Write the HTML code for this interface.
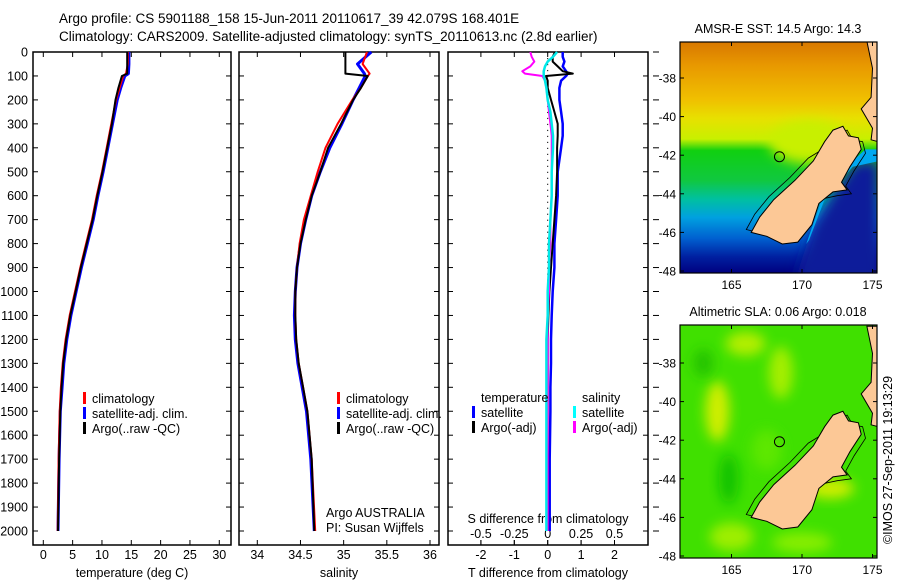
<!DOCTYPE html>
<html><head><meta charset="utf-8"><style>
body{margin:0;background:#fff;}
svg{display:block;font-family:"Liberation Sans",sans-serif;}
</style></head><body>
<svg id="c" width="900" height="580" xmlns="http://www.w3.org/2000/svg">
<text x="59" y="23" font-size="13.5">Argo profile: CS 5901188_158 15-Jun-2011 20110617_39 42.079S 168.401E</text>
<text x="59" y="41" font-size="13.5">Climatology: CARS2009. Satellite-adjusted climatology: synTS_20110613.nc (2.8d earlier)</text>
<g id="maps"></g>
<g id="panels"></g>
<text transform="translate(892,460) rotate(-90)" text-anchor="middle" font-size="12.5">©IMOS 27-Sep-2011 19:13:29</text>
</svg>
<script>
// ---- data ----
const depths = [0,50,90,100,150,200,300,400,500,600,700,800,900,1000,1100,1200,1300,1400,1500,1700,2000];
const tempClim = [14.4,14.4,14.1,13.6,13.0,12.4,11.6,10.8,10.0,9.1,8.3,7.3,6.3,5.4,4.5,3.8,3.3,3.0,2.8,2.6,2.45];
const tempSat  = [14.6,14.6,14.5,13.9,13.2,12.6,11.8,11.0,10.2,9.3,8.5,7.5,6.5,5.6,4.7,4.0,3.5,3.2,2.9,2.7,2.5];
const tempArgo = [14.3,14.3,14.3,13.4,12.8,12.3,11.7,10.9,10.1,9.2,8.4,7.4,6.4,5.5,4.6,3.9,3.4,3.1,2.9,2.7,2.5];
const salClim = [35.27,35.22,35.3,35.28,35.2,35.1,34.93,34.79,34.70,34.62,34.54,34.49,34.46,34.44,34.44,34.45,34.48,34.53,34.58,34.63,34.67];
const salSat  = [35.32,35.16,35.24,35.25,35.18,35.11,34.98,34.84,34.73,34.63,34.56,34.50,34.46,34.44,34.43,34.44,34.47,34.52,34.57,34.62,34.66];
const salArgo = [35.02,35.02,35.02,35.28,35.2,35.11,34.97,34.82,34.73,34.63,34.56,34.50,34.46,34.44,34.44,34.45,34.48,34.53,34.58,34.63,34.66];
const diffDepths = [0,20,40,60,80,90,100,120,150,200,250,300,350,400,500,600,700,800,900,1000,1100,1200,1300,1400,1500,1700,1900,2000];
const dTsat  = [0.45,0.45,0.5,0.45,0.55,0.6,0.55,0.4,0.35,0.35,0.4,0.45,0.45,0.4,0.3,0.3,0.25,0.2,0.2,0.15,0.12,0.1,0.1,0.08,0.08,0.06,0.06,0.06];
const dTargo = [0.22,0.15,0.15,0.3,0.45,0.75,-0.05,0.0,0.0,0.1,0.2,0.3,0.3,0.28,0.28,0.25,0.2,0.15,0.1,0.05,0.02,0.0,0.0,0.0,0.0,0.0,0.0,0.0];
const dSsat  = [0.07,0.04,0.0,-0.02,-0.03,-0.03,-0.03,-0.02,-0.01,0.0,0.02,0.03,0.04,0.04,0.03,0.03,0.02,0.01,0.01,0.0,0.0,-0.01,-0.01,-0.01,-0.01,-0.01,-0.01,-0.01];
const dSargo = [-0.13,-0.12,-0.1,-0.13,-0.19,-0.17,-0.04,-0.02,-0.01,0.0,0.01,0.02,0.03,0.03,0.03,0.03,0.02,0.02,0.01,0.01,0.0,0.0,0.0,0.0,0.0,0.0,0.0,0.0];
const depthTicks = [0,100,200,300,400,500,600,700,800,900,1000,1100,1200,1300,1400,1500,1600,1700,1800,1900,2000];
const tempTicks = [0,5,10,15,20,25,30];
const salTicks = [34,34.5,35,35.5,36];
const tdTicks = [-2,-1,0,1,2];
const sdTicks = [-0.5,-0.25,0,0.25,0.5];
const latTicks = [-38,-40,-42,-44,-46,-48];
const lonTicks = [165,170,175];

const NS="http://www.w3.org/2000/svg";
function mk(tag,attrs,parent,txt){const e=document.createElementNS(NS,tag);for(const k in attrs)e.setAttribute(k,attrs[k]);if(txt!==undefined)e.textContent=txt;parent.appendChild(e);return e;}
const P=document.getElementById('panels');
const top0=52,bot=545;
const yD=d=>top0+d*0.2395;

function panel(name,x0,x1,xs,xticks,fmt,xlabel){
  const g=mk('g',{},P);
  
  
  const fr=mk('rect',{x:x0,y:top0,width:x1-x0,height:bot-top0,fill:'none',stroke:'#000','stroke-width':1.5},g);
  
  
  depthTicks.forEach(d=>{const y=yD(d);
    mk('line',{x1:x0,x2:x0+5,y1:y,y2:y,stroke:'#000'},g);
    mk('line',{x1:x1,x2:x1-5,y1:y,y2:y,stroke:'#000'},g);});
  xticks.forEach(v=>{const x=xs(v);
    mk('line',{x1:x,x2:x,y1:bot,y2:bot-5,stroke:'#000'},g);
    mk('line',{x1:x,x2:x,y1:top0,y2:top0+5,stroke:'#000'},g);
    const t=mk('text',{x:x,y:559,'font-size':12.5,'text-anchor':'middle'},g,fmt(v));
    
    });
  const xl=mk('text',{x:(x0+x1)/2,y:577,'font-size':12.5,'text-anchor':'middle'},g,xlabel);
  
  
  return g;
}
function line(g,xs,ds,vals,color,w,name){
  const pts=ds.map((d,i)=>xs(vals[i]).toFixed(1)+','+yD(d).toFixed(1)).join(' ');
  const l=mk('polyline',{points:pts,fill:'none',stroke:color,'stroke-width':w,'stroke-linejoin':'round'},g);
  
  
}
function legend(g,x,y,items){
  items.forEach((it,i)=>{
    const yy=y+i*15;
    if(it[1]){const r=mk('rect',{x:x,y:yy-11,width:3,height:12,fill:it[1]},g);
      
      }
    const t=mk('text',{x:x+(it[2]||9),y:yy,'font-size':12.5},g,it[0]);
    
    
  });
}
depthTicks.forEach(d=>{const t=mk('text',{x:28,y:yD(d)+4.5,'font-size':12.5,'text-anchor':'end'},P,String(d));
  
  });

// Panel 1 temperature
const xT=v=>43.3+v*5.866;
const g1=panel('temperature-panel',33,231,xT,tempTicks,v=>String(v),'temperature (deg C)');
line(g1,xT,depths,tempSat,'#0000ff',3,'temperature-satellite-line');
line(g1,xT,depths,tempClim,'#ff0000',2,'temperature-climatology-line');
line(g1,xT,depths,tempArgo,'#000',2,'temperature-argo-line');
legend(g1,83,403,[['climatology','#f00'],['satellite-adj. clim.','#00f'],['Argo(..raw -QC)','#000']]);

// Panel 2 salinity
const xS=v=>257.3+(v-34)*86.35;
const g2=panel('salinity-panel',239,439,xS,salTicks,v=>String(v),'salinity');
line(g2,xS,depths,salSat,'#0000ff',3,'salinity-satellite-line');
line(g2,xS,depths,salClim,'#ff0000',2,'salinity-climatology-line');
line(g2,xS,depths,salArgo,'#000',2,'salinity-argo-line');
legend(g2,337,403,[['climatology','#f00'],['satellite-adj. clim.','#00f'],['Argo(..raw -QC)','#000']]);
legend(g2,317,517,[['Argo AUSTRALIA',null],['PI: Susan Wijffels',null]]);

// Panel 3 differences
const xTd=v=>547.7+v*33.4;
const xSd=v=>547.7+v*133.6;
const g3=panel('difference-panel',448,648,xTd,tdTicks,v=>(v<0?'-'+Math.abs(v):String(v)),'T difference from climatology');
for(let d=0;d<2000;d+=25){mk('rect',{x:xTd(0)-0.5,y:yD(d),width:1,height:1.2,fill:'#000'},g3);}
sdTicks.forEach(v=>{const x=xSd(v);
  mk('line',{x1:x,x2:x,y1:bot,y2:bot-5,stroke:'#000'},g3);
  const t=mk('text',{x:x,y:538,'font-size':12.5,'text-anchor':'middle'},g3,(v<0?'-'+Math.abs(v):String(v)));
  
  });
const st=mk('text',{x:548,y:523,'font-size':12.5,'text-anchor':'middle'},g3,'S difference from climatology');


line(g3,xTd,diffDepths,dTsat,'#0000ff',2.5,'temp-diff-satellite-line');
line(g3,xTd,diffDepths,dTargo,'#000',2,'temp-diff-argo-line');
line(g3,xSd,diffDepths,dSargo,'#ff00ff',2,'sal-diff-argo-line');
line(g3,xSd,diffDepths,dSsat,'#00e8e8',2.5,'sal-diff-satellite-line');
legend(g3,472,402,[['temperature',null,9],['satellite','#00f'],['Argo(-adj)','#000']]);
legend(g3,573,402,[['salinity',null,9],['satellite','#0ff'],['Argo(-adj)','#f0f']]);
depthTicks.forEach(d=>{mk('line',{x1:653,x2:659,y1:yD(d),y2:yD(d),stroke:'#000'},g3);});

// ---- maps ----
const M=document.getElementById('maps');
const island=[[166.4,-46.0],[167.0,-45.2],[168.0,-44.3],[169.5,-43.3],[170.8,-42.3],[171.6,-41.3],[172.2,-40.7],[172.9,-40.5],[173.3,-41.0],[174.0,-41.1],[174.2,-41.7],[173.4,-42.6],[172.8,-43.4],[173.2,-43.8],[172.2,-43.9],[171.2,-44.5],[170.7,-45.6],[169.7,-46.5],[168.6,-46.6],[167.5,-46.2]];
const northIsland=[[174.6,-36.1],[175.4,-36.1],[175.4,-41.3],[174.9,-41.2],[175.0,-40.6],[174.2,-39.6],[174.9,-39.0],[175.0,-37.5]];
const argoPos=[168.401,-42.079];
function map(name,y0,yLat38,title,fills){
  const g=mk('g',{},M);
  
  
  const X=lon=>731.5+(lon-165)*14.1, Y=lat=>yLat38+(-38-lat)*19.3;
  const yB=Y(-48)+2;
  const id=name+'-clip';
  const cp=mk('clipPath',{id:id},g);mk('rect',{x:680,y:y0,width:197,height:yB-y0},cp);
  const inner=mk('g',{'clip-path':'url(#'+id+')'},g);
  fills(inner,X,Y,y0,yB);
  const pts=a=>a.map(p=>X(p[0]).toFixed(1)+','+Y(p[1]).toFixed(1)).join(' ');
  const shelf=island.map(p=>[p[0]+(p[0]<171.5?-0.35:0.3),p[1]+(p[0]<171.5?0.15:-0.2)]);
  mk('polygon',{points:pts(shelf),fill:'none',stroke:'#000','stroke-width':0.8},inner);
  const l1=mk('polygon',{points:pts(island),fill:'#fcc896',stroke:'#000','stroke-width':1},inner);
  
  
  mk('polygon',{points:pts(northIsland),fill:'#fcc896',stroke:'#000','stroke-width':1},inner);
  const c=mk('circle',{cx:X(argoPos[0]),cy:Y(argoPos[1]),r:5,fill:'none',stroke:'#000','stroke-width':1},inner);
  
  
  mk('rect',{x:680,y:y0,width:197,height:yB-y0,fill:'none',stroke:'#000','stroke-width':1.2},g);
  latTicks.forEach(v=>{const y=Y(v);
    mk('line',{x1:680,x2:684,y1:y,y2:y,stroke:'#000'},g);mk('line',{x1:877,x2:873,y1:y,y2:y,stroke:'#000'},g);
    const t=mk('text',{x:676,y:y+4.5,'font-size':12,'text-anchor':'end'},g,String(v));
    
    });
  lonTicks.forEach(v=>{const x=X(v);
    mk('line',{x1:x,x2:x,y1:y0,y2:y0+4,stroke:'#000'},g);mk('line',{x1:x,x2:x,y1:yB,y2:yB-4,stroke:'#000'},g);
    const t=mk('text',{x:x,y:yB+16,'font-size':12,'text-anchor':'middle'},g,String(v));
    
    });
  const tt=mk('text',{x:778,y:y0-9,'font-size':12.5,'text-anchor':'middle'},g,title);
  
  
}
const defs=mk('defs',{},M);
const lg=mk('linearGradient',{id:'sst',x1:0,y1:0,x2:0,y2:1},defs);
[[0,'#d87800'],[0.1,'#e89800'],[0.25,'#f0c000'],[0.33,'#e8e000'],[0.42,'#c8f000'],[0.47,'#10d010'],[0.6,'#10c840'],[0.68,'#00c0a0'],[0.76,'#00a0e0'],[0.85,'#0060d0'],[0.93,'#0020a0'],[1,'#000080']].forEach(s=>mk('stop',{offset:s[0],'stop-color':s[1]},lg));
const bl=mk('filter',{id:'blur',x:'-50%',y:'-50%',width:'200%',height:'200%'},defs);
mk('feGaussianBlur',{stdDeviation:6},bl);
map('sst-map',42,78,'AMSR-E SST: 14.5 Argo: 14.3',(g,X,Y,y0,yB)=>{
  mk('rect',{x:680,y:y0,width:197,height:yB-y0,fill:'url(#sst)'},g);
  mk('ellipse',{cx:X(170.5),cy:Y(-41.3),rx:40,ry:22,fill:'#c8f000',filter:'url(#blur)'},g);
  mk('polygon',{points:[[X(169.5),Y(-48.5)],[X(175.5),Y(-48.5)],[X(175.5),Y(-42.3)],[X(173.8),Y(-42.3)],[X(172.3),Y(-43.8)],[X(170.8),Y(-45.6)]].map(p=>p.join(',')).join(' '),fill:'#0a1e9a',filter:'url(#blur)'},g);
  mk('polygon',{points:[[X(170.3),Y(-46.6)],[X(171.3),Y(-44.5)],[X(173.3),Y(-42.5)],[X(174.5),Y(-41.7)],[X(175.5),Y(-41.7)],[X(175.5),Y(-42.3)],[X(173.6),Y(-42.6)],[X(171.6),Y(-44.3)],[X(170.5),Y(-46.4)]].map(p=>p.join(',')).join(' '),fill:'#00a8f0'},g);
});
map('sla-map',325,363,'Altimetric SLA: 0.06 Argo: 0.018',(g,X,Y,y0,yB)=>{
  mk('rect',{x:680,y:y0,width:197,height:yB-y0,fill:'#40e000'},g);
  [[164,-40.5,12,30,'#e0f000'],[168.5,-38.5,12,26,'#b0f000'],[166,-37,20,12,'#c0f000'],[172,-44.5,24,10,'#e0f000'],[165,-47,22,14,'#a8f000'],[163,-38,10,14,'#20c000'],[164.8,-44,10,25,'#10c000'],[170,-47.3,30,10,'#90f000'],[167.5,-42.5,15,20,'#60e800']].forEach(b=>{
    mk('ellipse',{cx:X(b[0]),cy:Y(b[1]),rx:b[2],ry:b[3],fill:b[4],opacity:0.9,filter:'url(#blur)'},g);});
});
</script>
</body></html>
